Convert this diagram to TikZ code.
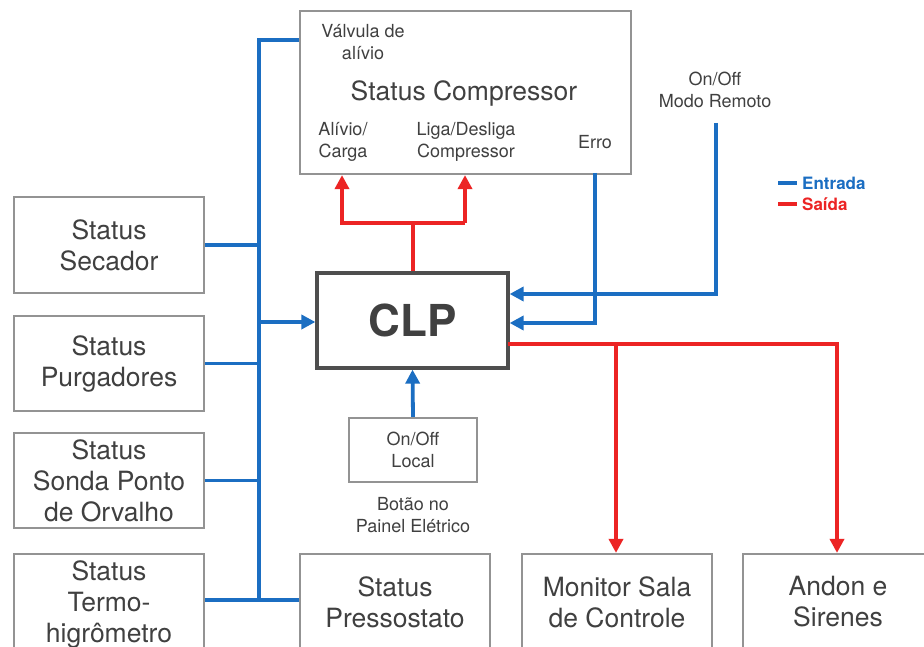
\documentclass[tikz,border=0pt]{standalone}
\usepackage{fontspec}
\setmainfont{TeX Gyre Heros}
\usetikzlibrary{arrows.meta}
\definecolor{inblue}{HTML}{1B6EC2}
\definecolor{outred}{HTML}{EC2424}
\definecolor{boxgray}{HTML}{939393}
\definecolor{txtgray}{HTML}{404040}
\definecolor{clpgray}{HTML}{4E4E4E}
\begin{document}
\begin{tikzpicture}[x=1pt,y=-1pt,
  box/.style={draw=boxgray,line width=2.2pt,rectangle,inner sep=0pt,align=center,text=txtgray,
    font=\fontsize{26.5}{31}\selectfont},
  small/.style={text=txtgray,align=center,inner sep=0pt,font=\fontsize{18}{22}\selectfont},
  inwire/.style={draw=inblue,line width=3.8pt},
  outwire/.style={draw=outred,line width=3.8pt},
  tip/.style={-{Triangle[length=14pt,width=14pt]}},
  legtext/.style={font=\bfseries\fontsize{17}{20}\selectfont,anchor=west,inner sep=0pt}]
\useasboundingbox[fill=white] (0,0) rectangle (924,647);

% boxes
\node[box,minimum width=331pt,minimum height=163pt] (comp) at (465.5,92.5) {};
\node[box,minimum width=190pt,minimum height=96pt] (sec) at (109,245) {Status\\Secador};
\node[box,minimum width=190pt,minimum height=95pt] (pur) at (109,363.5) {Status\\Purgadores};
\node[box,minimum width=190pt,minimum height=95pt] (son) at (109,480.5) {Status\\Sonda Ponto\\de Orvalho};
\node[box,minimum width=190pt,minimum height=100pt] (ter) at (109,604) {Status\\Termo-\\higrômetro};
\node[box,minimum width=190pt,minimum height=96pt] (pre) at (395,602) {Status\\Pressostato};
\node[box,minimum width=190pt,minimum height=96pt] (mon) at (617,602) {Monitor Sala\\de Controle};
\node[box,minimum width=190pt,minimum height=96pt] (and) at (838,602) {Andon e\\Sirenes};
\node[draw=clpgray,line width=3.2pt,rectangle,inner sep=0pt,minimum width=191pt,minimum height=95pt,
  text=txtgray,font=\bfseries\fontsize{44}{50}\selectfont] (clp) at (412.5,320.5) {CLP};
\node[box,minimum width=128pt,minimum height=64pt,font=\fontsize{18}{22}\selectfont] (loc) at (413,450) {On/Off\\Local};

% texts inside compressor box and free labels
\node[small] (valv) at (363,42) {Válvula de\\alívio};
\node[text=txtgray,inner sep=0pt,font=\fontsize{26.5}{31}\selectfont] (stc) at (464,93) {Status Compressor};
\node[small] (alc) at (343,142) {Alívio/\\Carga};
\node[small] (liga) at (466,142) {Liga/Desliga\\Compressor};
\node[small] (erro) at (595,142) {Erro};
\node[small] (rem) at (715,90) {On/Off\\Modo Remoto};
\node[small] (bot) at (413,515) {Botão no\\Painel Elétrico};

% coordinates
\coordinate (busTop) at (259,40);
\coordinate (busBot) at (259,600);
\coordinate (redJ) at (413,223);
\coordinate (redL) at (342,223);
\coordinate (redR) at (465,223);
\coordinate (remTop) at (716,123);
\coordinate (remC) at (716,294);
\coordinate (erroTop) at (595,173);
\coordinate (erroC) at (595,323);
\coordinate (outS) at (508,344);
\coordinate (outM) at (616,344);
\coordinate (outA) at (837,344);

% blue input wires
\draw[inwire,line join=miter] (comp.west |- busTop) -- (busTop) -- (busBot) -- (pre.west |- busBot);
\draw[inwire] (sec.east) -- (sec.east -| busTop);
\draw[inwire] (pur.east) -- (pur.east -| busTop);
\draw[inwire] (son.east) -- (son.east -| busTop);
\draw[inwire] (ter.east |- busBot) -- (busBot);
\draw[inwire,tip] (259,322) -- (clp.west |- 0,322);
\draw[inwire,tip] (loc.north) -- (clp.south);
\draw[inwire,tip] (remTop) -- (remC) -- (clp.east |- remC);
\draw[inwire,tip] (erroTop) -- (erroC) -- (clp.east |- erroC);

% red output wires
\draw[outwire] (clp.north -| redJ) -- (redJ);
\draw[outwire,tip] (redR) -- (redL) -- (comp.south -| redL);
\draw[outwire,tip] (redR) -- (comp.south -| redR);
\draw[outwire,tip] (outS) -- (outA) -- (and.north -| outA);
\draw[outwire,tip] (outM) -- (mon.north -| outM);

% legend
\draw[inwire] (778,183) -- (797,183);
\node[legtext,text=inblue] (lgin) at (802,183) {Entrada};
\draw[outwire] (778,204) -- (797,204);
\node[legtext,text=outred] (lgout) at (802,204) {Saída};
\end{tikzpicture}
\end{document}
